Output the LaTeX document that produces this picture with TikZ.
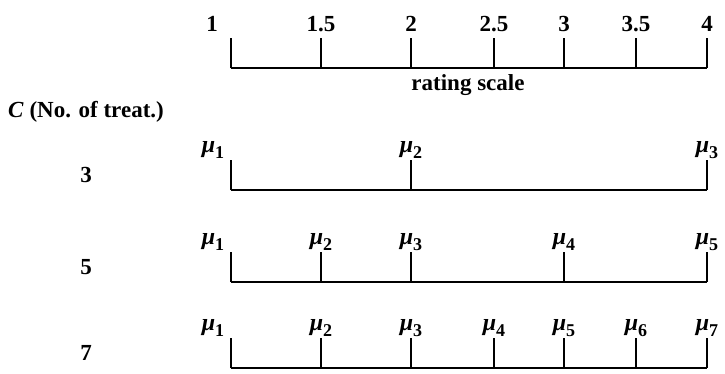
\documentclass[tikz,border=0pt]{standalone}
\usepackage{fontspec}
\setmainfont{Liberation Serif}
\newcommand{\mulab}[1]{\textit{μ}\raisebox{-0.28em}{\fontsize{18}{18}\selectfont\upshape #1}}
\begin{document}
\begin{tikzpicture}[
	x=1pt, y=-1pt,
	lab/.style={font=\fontsize{23}{25}\selectfont\bfseries, inner sep=0pt},
	mu/.style={font=\fontsize{24}{26}\selectfont\bfseries, inner sep=0pt},
	line/.style={line width=1.1pt}
	]
	\useasboundingbox (0,0) rectangle (725,373);
	
	% Rating scale
	\foreach \x/\lx/\t [count=\i] in {231/212/1,321/321/1.5,411/411/2,494/494/2.5,564/564/3,636/636/3.5,707/707/4} {
		\coordinate (sb\i) at (\x,68);
		\coordinate (st\i) at (\x,38);
		\draw[line] (sb\i) -- (st\i);
		\node[lab] (sl\i) at (\lx,24) {\t};
	}
	\draw[line] (sb1) -- (sb7);
	\node[lab] (scale) at (468,85) {rating scale};
	\node[lab, anchor=west] (C) at (8,112) {\textit{C} (No. of treat.)};
	
	% Treatment rows
	\foreach \r/\b/\xs in {3/190/{231,411,707},5/282/{231,321,411,564,707},7/368/{231,321,411,494,564,636,707}} {
		\node[lab] (n\r) at (86,\b-15) {\r};
		\foreach \x [count=\i] in \xs {
			\pgfmathsetmacro{\lx}{\i==1 ? \x-18 : \x}
			\coordinate (b\r-\i) at (\x,\b);
			\coordinate (t\r-\i) at (\x,\b-30);
			\draw[line] (b\r-\i) -- (t\r-\i);
			\node[mu] (m\r-\i) at (\lx,\b-40) {\mulab{\i}};
		}
		\draw[line] (b\r-1) -- (b\r-\r);
	}
\end{tikzpicture}
\end{document}
